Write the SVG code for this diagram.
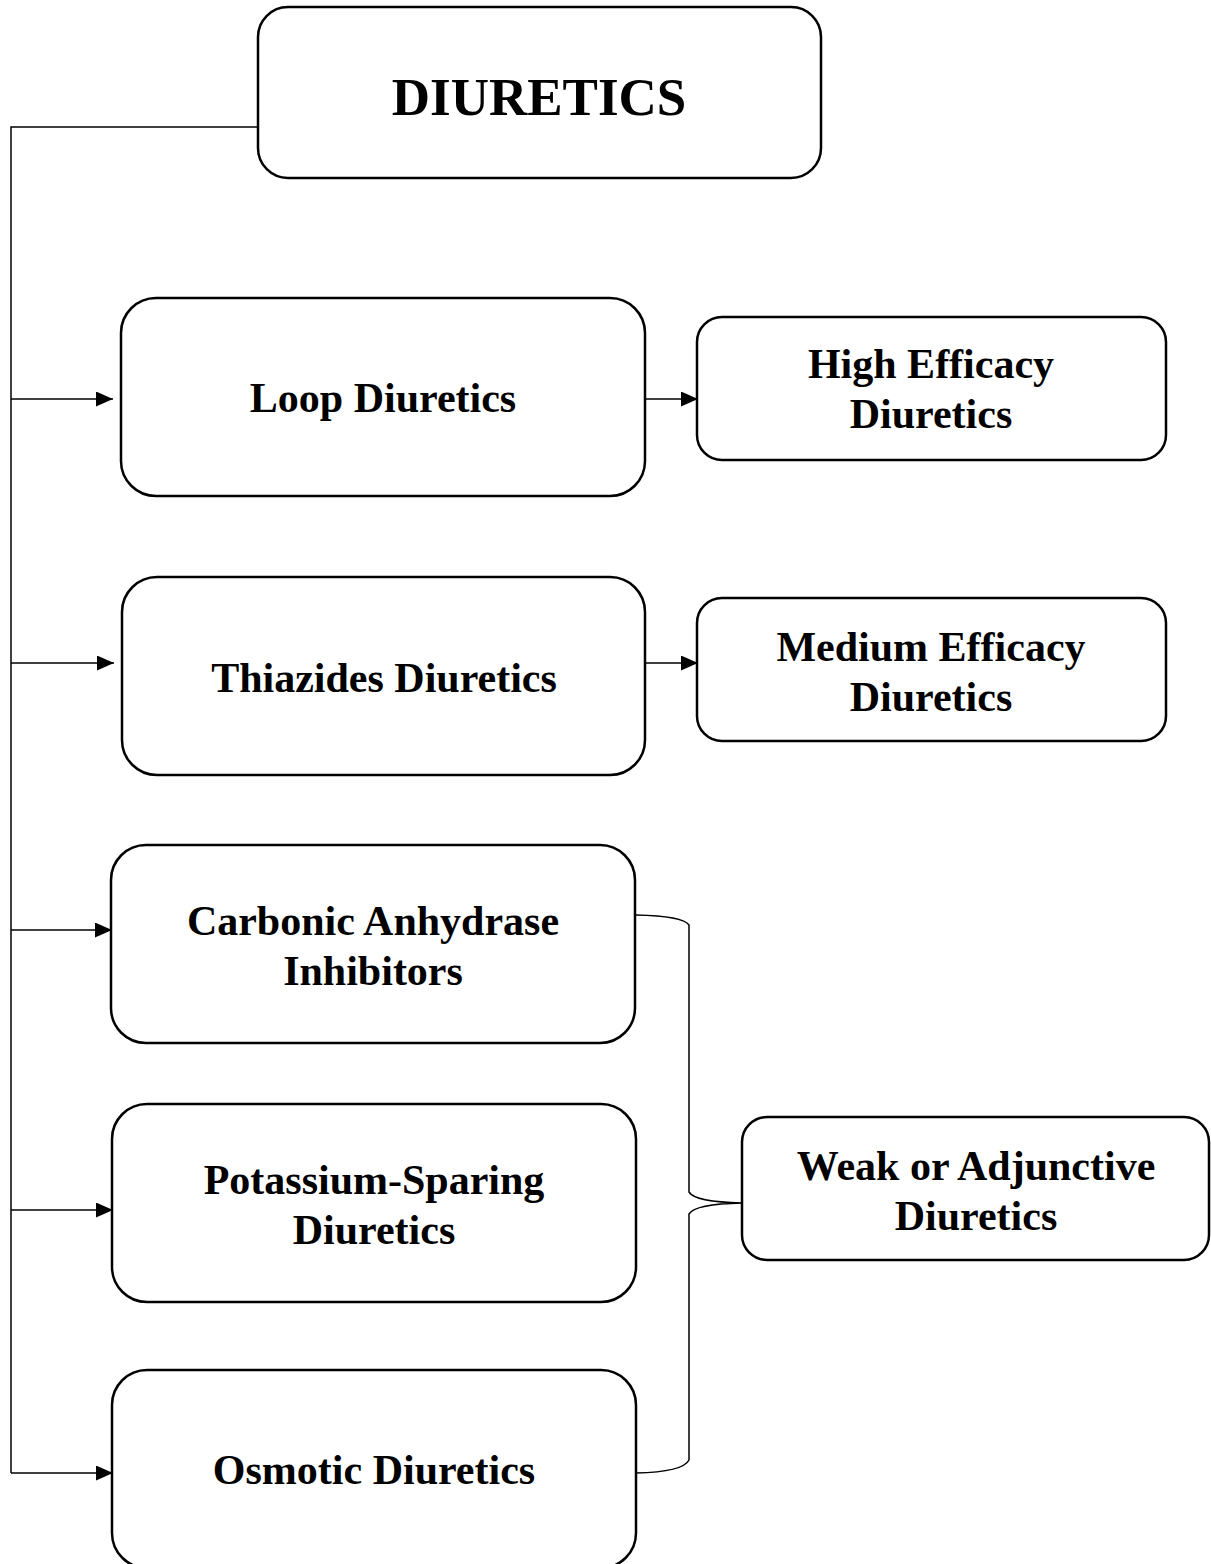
<svg xmlns="http://www.w3.org/2000/svg" width="1211" height="1564" viewBox="0 0 1211 1564">
<style>
.box{fill:#fff;stroke:#000;stroke-width:2.5}
.t{font-family:"Liberation Serif","Times New Roman",serif;font-weight:bold;font-size:42px;text-anchor:middle;fill:#000}
.c{fill:none;stroke:#000;stroke-width:1.5}
</style>
<defs>
<marker id="ah" markerWidth="17" markerHeight="15" refX="17" refY="7.5" orient="auto" markerUnits="userSpaceOnUse">
<path d="M0,0 L17,7.5 L0,15 Z" fill="#000"/>
</marker>
</defs>
<g id="connectors">
<path class="c" d="M258,127 H11 V1473"/>
<path class="c" d="M11,399 H113" marker-end="url(#ah)"/>
<path class="c" d="M11,663 H114" marker-end="url(#ah)"/>
<path class="c" d="M11,930 H112" marker-end="url(#ah)"/>
<path class="c" d="M11,1210 H113" marker-end="url(#ah)"/>
<path class="c" d="M11,1473 H113" marker-end="url(#ah)"/>
<path class="c" d="M645,399 H698" marker-end="url(#ah)"/>
<path class="c" d="M645,663 H698" marker-end="url(#ah)"/>
<path class="c" d="M636,915 Q683,916 689,925 V1192 Q695,1202 742,1203 Q695,1204 689,1214 V1460 Q683,1472 636,1473"/>
</g>
<g id="diuretics"><rect class="box" x="258" y="7" width="563" height="171" rx="30"/><text class="t" x="539" y="115" style="font-size:53px">DIURETICS</text></g>
<g id="loop"><rect class="box" x="121" y="298" width="524" height="198" rx="35"/><text class="t" x="383" y="412">Loop Diuretics</text></g>
<g id="high"><rect class="box" x="697" y="317" width="469" height="143" rx="25"/><text class="t" x="931" y="378">High Efficacy</text><text class="t" x="931" y="428">Diuretics</text></g>
<g id="thiazides"><rect class="box" x="122" y="577" width="523" height="198" rx="35"/><text class="t" x="384" y="692">Thiazides Diuretics</text></g>
<g id="medium"><rect class="box" x="697" y="598" width="469" height="143" rx="25"/><text class="t" x="931" y="661">Medium Efficacy</text><text class="t" x="931" y="711">Diuretics</text></g>
<g id="carbonic"><rect class="box" x="111" y="845" width="524" height="198" rx="35"/><text class="t" x="373" y="935">Carbonic Anhydrase</text><text class="t" x="373" y="985">Inhibitors</text></g>
<g id="potassium"><rect class="box" x="112" y="1104" width="524" height="198" rx="35"/><text class="t" x="374" y="1194">Potassium-Sparing</text><text class="t" x="374" y="1244">Diuretics</text></g>
<g id="osmotic"><rect class="box" x="112" y="1370" width="524" height="198" rx="35"/><text class="t" x="374" y="1484">Osmotic Diuretics</text></g>
<g id="weak"><rect class="box" x="742" y="1117" width="467" height="143" rx="25"/><text class="t" x="976" y="1180">Weak or Adjunctive</text><text class="t" x="976" y="1230">Diuretics</text></g>
</svg>
